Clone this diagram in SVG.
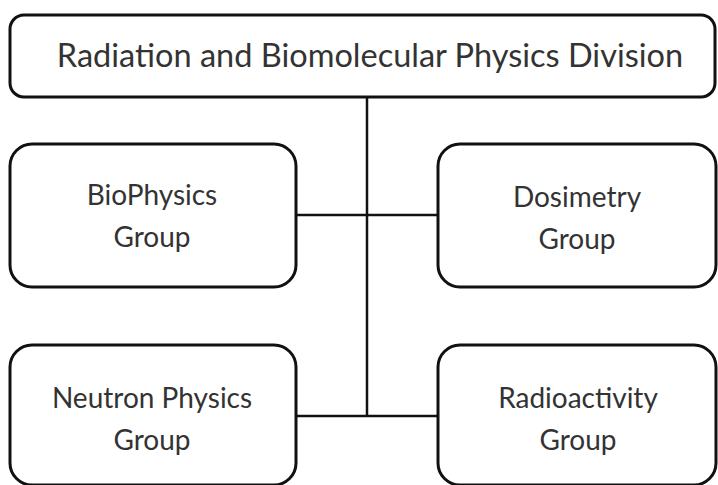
<svg xmlns="http://www.w3.org/2000/svg" width="718" height="485" viewBox="0 0 718 485">
<style>
.box{fill:#fff;stroke:#111;stroke-width:3}
.t{font-family:Lato,"Open Sans",sans-serif;fill:#333;text-anchor:middle}
.big{font-size:32.5px}
.sm{font-size:28px}
.c{fill:none;stroke:#111;stroke-width:2.5}
</style>
<rect width="718" height="485" fill="#fff"/>
<g id="connectors">
<line class="c" x1="367" y1="97" x2="367" y2="416"/>
<line class="c" x1="296" y1="215" x2="438" y2="215"/>
<line class="c" x1="296" y1="416" x2="438" y2="416"/>
</g>
<g id="division">
<rect class="box" x="10" y="15" width="705" height="82" rx="14"/>
<text class="t big" x="370" y="67">Radiation and Biomolecular Physics Division</text>
</g>
<g id="biophysics">
<rect class="box" x="10" y="144" width="286" height="143" rx="22"/>
<text class="t sm" x="152" y="205">BioPhysics</text>
<text class="t sm" x="152" y="247">Group</text>
</g>
<g id="dosimetry">
<rect class="box" x="438" y="144" width="278" height="143" rx="22"/>
<text class="t sm" x="577" y="207">Dosimetry</text>
<text class="t sm" x="577" y="249">Group</text>
</g>
<g id="neutron">
<rect class="box" x="10" y="345" width="286" height="140" rx="22"/>
<text class="t sm" x="152" y="408">Neutron Physics</text>
<text class="t sm" x="152" y="450">Group</text>
</g>
<g id="radioactivity">
<rect class="box" x="438" y="345" width="278" height="140" rx="22"/>
<text class="t sm" x="578" y="408">Radioactivity</text>
<text class="t sm" x="578" y="450">Group</text>
</g>
</svg>
